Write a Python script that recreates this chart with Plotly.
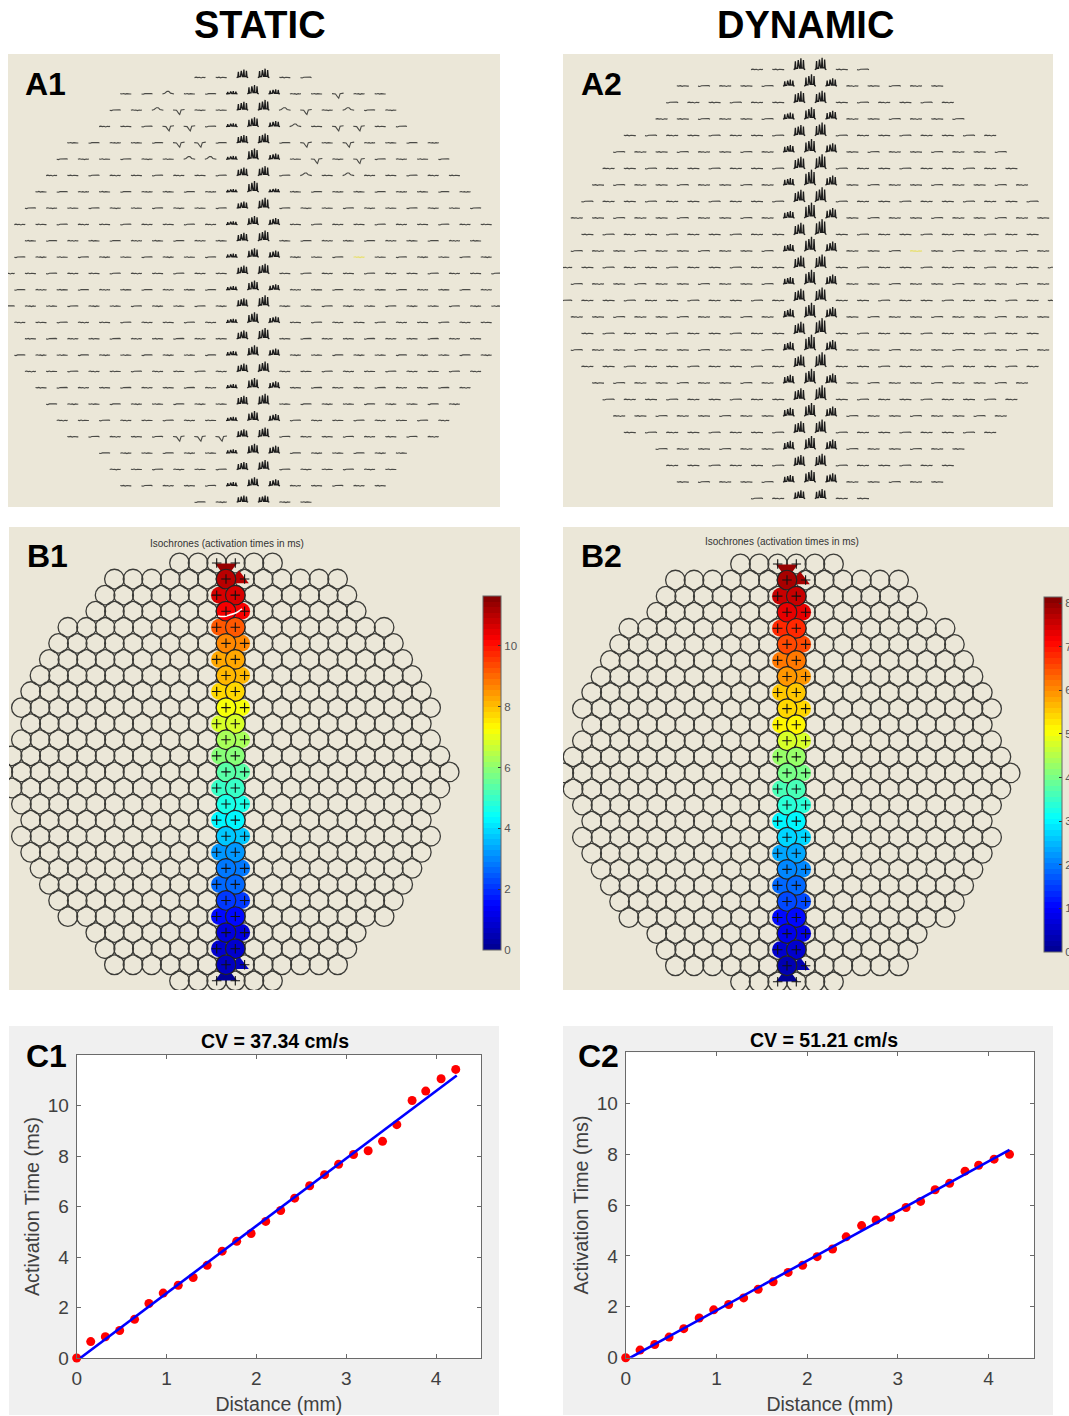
import plotly.graph_objects as go

W, H = 1069, 1416
FONT = "Liberation Sans"
BEIGE = "#EBE7D8"

# ---------- data ----------
DIST_C1 = [0, .156, .319, .478, .644, .804, .963, 1.13, 1.296, 1.452, 1.619, 1.781, 1.941, 2.104,
           2.27, 2.426, 2.593, 2.759, 2.915, 3.081, 3.244, 3.404, 3.563, 3.733, 3.885, 4.056, 4.219]
TIME_C1 = [0, .65, .84, 1.09, 1.53, 2.16, 2.57, 2.88, 3.19, 3.67, 4.23, 4.62, 4.93, 5.41,
           5.84, 6.33, 6.82, 7.26, 7.67, 8.06, 8.21, 8.58, 9.24, 10.2, 10.57, 11.06, 11.43]
DIST_C2 = [0, .158, .32, .478, .64, .81, .97, 1.135, 1.3, 1.46, 1.625, 1.79, 1.95, 2.11,
           2.28, 2.43, 2.6, 2.76, 2.92, 3.09, 3.25, 3.41, 3.57, 3.74, 3.89, 4.06, 4.23]
TIME_C2 = [0, .3, .52, .81, 1.14, 1.56, 1.88, 2.09, 2.35, 2.69, 2.98, 3.35, 3.63, 3.97, 4.27,
           4.75, 5.19, 5.41, 5.52, 5.9, 6.14, 6.6, 6.85, 7.33, 7.56, 7.8, 7.99]
FIT_X_C1 = [0.04, 4.23]
FIT_Y_C1 = [0.0, 11.19]
FIT_X_C2 = [0.05, 4.23]
FIT_Y_C2 = [0.0, 8.17]
X_TICKS = [0, 1, 2, 3, 4]
Y_TICKS = [0, 2, 4, 6, 8, 10]
CBAR1_TICKS = [0, 2, 4, 6, 8, 10]
CBAR2_TICKS = [0, 1, 2, 3, 4, 5, 6, 7, 8]

# half-width of each electrode row, in column units (top half, mirrored below)
ROW_HALF_TOP = [2.5, 6, 6.5, 7, 8.5, 9, 9.5, 10, 10.5, 11, 10.5, 11, 11.5, 12]
ROW_HALF = ROW_HALF_TOP + ROW_HALF_TOP[-2::-1]

# waveform templates
DASH_X = [0, .15, .3, .45, .6, .75, .9, 1]
DASH_Y = [[0, .03, 0, .02, -.02, .02, 0, .02], [.02, 0, .03, -.01, .02, .03, 0, 0], [0, -.02, .02, .03, 0, .01, .03, 0]]
SPIKE_X = [0, .1, .15, .19, .26, .33, .4, .44, .5, .58, .63, .67, .74, .81, .85, .9, 1]
SPIKE_Y = [0, .06, .62, .08, .1, .1, .72, .12, .12, .12, .85, .12, .1, .12, .72, .06, 0]
BUMP_X = [0, .2, .4, .55, .7, 1]
BUMP_Y = [0, .05, .16, .16, .05, 0]
VEE_X = [0, .3, .5, .58, .7, 1]
VEE_Y = [.02, 0, -.2, -.26, .02, .05]

# deflected electrodes as (row, column)
A1_BUMPS = [(1, -4), (2, -4.5), (2, 1.5), (2, 4.5), (3, 2), (5, -3), (5, -2), (6, 2.5), (6, 4.5)]
A1_VEES = [(1, 4), (2, -3.5), (2, 2.5), (3, -4), (3, -3), (3, 4), (3, 5), (4, -3.5), (4, -2.5),
           (4, 2.5), (4, 4.5), (5, 3), (5, 5), (22, -3.5), (22, -2.5), (22, -1.5)]
YELLOW_ELECTRODE = (11, 5)

# spike amplitudes for the central electrodes, one per row
CENTRE_LEFT_A1 = [.85, .3, .9, .35, .85, .35, .85, .3, .7, .35, .85, .4, .85, .4, .85, .4, .9, .45, .85, .4, .9, .4, .8, .4, .8, .4, .7]
CENTRE_MAIN_A1 = [.95, .95, 1.1, 1, 1, 1.15, 1, 1.15, 1.1, .9, 1.1, .95, 1.05, 1, 1.15, 1.1, 1.15, 1.05, 1.05, 1.05, 1.1, 1, 1, 1, 1, .9, .7]
CENTRE_RIGHT_A1 = [.55, .5, .5, .6, .5, .6, .3, .35, .3, .7, .3, .7, .3, .6, .4, .65, .4, .7, .4, .7, .4, .7, .4, .8, .3, .7, .3]
CENTRE_LEFT_A2 = [.95, .55, .95, .55, .9, .6, 1, .6, 1, .6, 1, .6, 1, .6, 1, .7, 1, .7, 1, .7, .95, .7, .95, .7, .9, .6, .7]
CENTRE_MAIN_A2 = [1, 1, 1, 1, 1.1, 1.1, 1.2, 1.3, 1.2, 1.3, 1.3, 1.2, 1.1, 1.2, 1.1, 1.2, 1.3, 1.3, 1.2, 1.2, 1.2, 1.1, 1.1, 1.1, 1, 1, .8]
CENTRE_RIGHT_A2 = [.8, .65, .8, .7, .9, .75, 1, .8, 1, .85, 1, .8, 1, .8, 1, .85, 1, .85, 1, .8, 1, .8, .9, .8, .9, .75, .6]

# white contour artefact on B1 (column, row)
ARC_COL = [-.43, -.1, .2, .55, .86]
ARC_ROW = [3.3, 3.33, 3.23, 3.1, 2.86]


# ---------- helpers ----------
def jet(t):
    stops = [(0, (0, 0, 143)), (.125, (0, 0, 255)), (.375, (0, 255, 255)), (.625, (255, 255, 0)),
             (.875, (255, 0, 0)), (1, (128, 0, 0))]
    for (a, ca), (b, cb) in zip(stops, stops[1:]):
        if t <= b:
            f = (t - a) / (b - a)
            return "rgb(%d,%d,%d)" % tuple(round(x + (y - x) * f) for x, y in zip(ca, cb))
    return "rgb(128,0,0)"


LEVELS = 64
JET64 = []
for i in range(LEVELS):
    c = jet((i + .5) / LEVELS)
    JET64 += [[i / LEVELS, c], [(i + 1) / LEVELS, c]]


def px(x):
    return x / W


def py(y):
    return 1 - y / H


def row_cols(r):
    h = ROW_HALF[r]
    return [-h + i for i in range(int(2 * h) + 1)]


fig = go.Figure()
layout_axes = {}
shapes = []
annotations = []


def add_axes(n, x0, x1, y0, y1, xr, yr, **extra):
    sfx = "" if n == 1 else str(n)
    base = dict(visible=False, fixedrange=True, showgrid=False, zeroline=False)
    base.update(extra)
    layout_axes["xaxis" + sfx] = dict(base, domain=[px(x0), px(x1)], range=xr, anchor="y" + sfx)
    layout_axes["yaxis" + sfx] = dict(base, domain=[py(y1), py(y0)], range=yr, anchor="x" + sfx)
    return "x" + sfx, "y" + sfx


def rect(x0, x1, y0, y1, fill):
    shapes.append(dict(type="rect", xref="paper", yref="paper", x0=px(x0), x1=px(x1), y0=py(y1), y1=py(y0),
                       fillcolor=fill, line_width=0, layer="below"))


def text(x, y, s, size, bold=True, color="#000"):
    annotations.append(dict(x=px(x), y=py(y), xref="paper", yref="paper", text="<b>%s</b>" % s if bold else s,
                            showarrow=False, xanchor="center", yanchor="middle",
                            font=dict(family=FONT, size=size, color=color)))


def waveform(col, row, tx, ty, amp, w, h, base=.1):
    xs = [col + (t - .5) * w for t in tx]
    ys = [row + base - v * amp * h for v in ty]
    return xs + [None], ys + [None]


def panel_a(n, box, cx, cy, dx, dy, left, main, right, bumps, vees, width, spike_h):
    x0, x1, y0, y1 = box
    xa, ya = add_axes(n, x0, x1, y0, y1, [(x0 - cx) / dx, (x1 - cx) / dx], [(y1 - cy) / dy, (y0 - cy) / dy])
    rect(x0, x1, y0, y1, BEIGE)
    lx, ly, sx, sy = [], [], [], []
    special = set(bumps) | set(vees) | {YELLOW_ELECTRODE}
    w = width / dx
    for r in range(27):
        for k, c in enumerate(row_cols(r)):
            central = (r % 2 and abs(c) <= 1) or (not r % 2 and abs(c) <= .5)
            if central:
                if r % 2:
                    amp = {-1: left[r], 0: main[r], 1: right[r]}[int(c)]
                else:
                    amp = left[r] if c < 0 else main[r]
                a, b = waveform(c, r, SPIKE_X, SPIKE_Y, amp, 11.5 / dx, spike_h)
                sx += a
                sy += b
            elif (r, c) not in special:
                a, b = waveform(c, r, DASH_X, DASH_Y[(r + k) % 3], 1, w, 1.0)
                lx += a
                ly += b
    for (r, c) in bumps:
        a, b = waveform(c, r, BUMP_X, BUMP_Y, 1, w * 1.05, 1.0)
        lx += a
        ly += b
    for (r, c) in vees:
        a, b = waveform(c, r, VEE_X, VEE_Y, 1, w * 1.05, 1.0)
        lx += a
        ly += b
    fig.add_trace(go.Scatter(x=lx, y=ly, xaxis=xa, yaxis=ya, mode="lines", showlegend=False, hoverinfo="skip",
                             line=dict(color="#4a4a46", width=1.1)))
    fig.add_trace(go.Scatter(x=sx, y=sy, xaxis=xa, yaxis=ya, mode="lines", showlegend=False, hoverinfo="skip",
                             line=dict(color="#1c1c1c", width=1.3)))
    r, c = YELLOW_ELECTRODE
    a, b = waveform(c, r, DASH_X, DASH_Y[0], 1, w, 1.0)
    fig.add_trace(go.Scatter(x=a, y=b, xaxis=xa, yaxis=ya, mode="lines", showlegend=False, hoverinfo="skip",
                             line=dict(color="#e8e070", width=1.2)))


def panel_b(n, box, cx, cy, dx, dy, times, caxis, arc=False):
    x0, x1, y0, y1 = box
    xa, ya = add_axes(n, x0, x1, y0, y1, [(x0 - cx) / dx, (x1 - cx) / dx], [(y1 - cy) / dy, (y0 - cy) / dy])
    rect(x0, x1, y0, y1, BEIGE)
    t_by_row = times[::-1]
    hx, hy = [], []
    for r in range(27):
        for c in row_cols(r):
            hx.append(c)
            hy.append(r)
    common = dict(xaxis=xa, yaxis=ya, mode="markers", showlegend=False, hoverinfo="skip")
    fig.add_trace(go.Scatter(x=hx, y=hy, marker=dict(size=19.6, color="rgba(0,0,0,0)",
                                                    line=dict(color="#3c3c38", width=1.3)), **common))
    rows = list(range(1, 26))
    main_c = [0 if r % 2 else .5 for r in rows]
    side_c = [1 if r % 2 else -.5 for r in rows]
    blob_c = [.7 if r in (1, 25) else (.84 if r % 2 else -.35) for r in rows]
    blob_sym = ["triangle-up" if r in (1, 25) else "circle" for r in rows]
    t = [t_by_row[r] for r in rows]
    # partial electrodes
    fig.add_trace(go.Scatter(x=blob_c, y=rows, marker=dict(size=17, symbol=blob_sym, color=t, coloraxis=caxis,
                                                          line_width=0), **common))
    # wedge ends of the activated strip
    fig.add_trace(go.Scatter(x=[0], y=[.32], marker=dict(size=19, symbol="triangle-down", color=[t_by_row[0]],
                                                         coloraxis=caxis, line_width=0), **common))
    fig.add_trace(go.Scatter(x=[0], y=[25.68], marker=dict(size=19, symbol="triangle-up", color=[t_by_row[26]],
                                                          coloraxis=caxis, line_width=0), **common))
    fig.add_trace(go.Scatter(x=main_c, y=rows, marker=dict(size=19.6, color=t, coloraxis=caxis,
                                                          line=dict(color="#222", width=1.2)), **common))
    if arc:
        fig.add_trace(go.Scatter(x=ARC_COL, y=ARC_ROW, xaxis=xa, yaxis=ya, mode="lines", showlegend=False,
                                 hoverinfo="skip", line=dict(color="white", width=1.6, shape="spline")))
    px_c = main_c + side_c + [-.5, .5, -.5, .5]
    px_r = rows + rows + [0, 0, 26, 26]
    fig.add_trace(go.Scatter(x=px_c, y=px_r, marker=dict(size=6.8, symbol="cross-thin",
                                                        line=dict(color="#111", width=1.1)), **common))


def panel_c(n, panel, box, dist, time, fx, fy):
    rect(*panel, "#F0F0F0")
    x0, x1, y0, y1 = box
    rect(x0, x1, y0, y1, "#FFFFFF")
    xa, ya = add_axes(n, x0, x1, y0, y1, [0, 4.5], [0, 12], visible=True, showline=True, linecolor="#6a6a6a",
                      linewidth=1, mirror="ticks", ticks="inside", ticklen=4, tickcolor="#6a6a6a", tickwidth=1,
                      ticklabelstandoff=3, tickfont=dict(family=FONT, size=19, color="#404040"))
    sfx = xa[1:]
    layout_axes["xaxis" + sfx].update(tickmode="array", tickvals=X_TICKS, ticktext=[str(v) for v in X_TICKS],
                                      title=dict(text="Distance (mm)", standoff=9,
                                                 font=dict(family=FONT, size=19.5, color="#404040")))
    layout_axes["yaxis" + sfx].update(tickmode="array", tickvals=Y_TICKS, ticktext=[str(v) for v in Y_TICKS],
                                      title=dict(text="Activation Time (ms)", standoff=2,
                                                 font=dict(family=FONT, size=19.8, color="#404040")))
    fig.add_trace(go.Scatter(x=dist, y=time, xaxis=xa, yaxis=ya, mode="markers", showlegend=False, cliponaxis=False,
                             marker=dict(size=9, color="#FF0000")))
    fig.add_trace(go.Scatter(x=fx, y=fy, xaxis=xa, yaxis=ya, mode="lines", showlegend=False, cliponaxis=False,
                             line=dict(color="#0000FF", width=2.6)))


def cbar(x0, y_top, y_bot, ticks, cmax):
    return dict(cmin=0, cmax=cmax, colorscale=JET64,
                colorbar=dict(x=px(x0), xanchor="left", xpad=0, y=py(y_bot), yanchor="bottom", ypad=0,
                              len=(y_bot - y_top) / H, lenmode="fraction", thickness=18,
                              outlinecolor="#666", outlinewidth=1, ticks="inside", ticklen=3, tickcolor="#333",
                              tickmode="array", tickvals=ticks, ticktext=[str(v) for v in ticks],
                              tickfont=dict(family=FONT, size=11.5, color="#555")))


# ---------- panels ----------
panel_a(1, (8, 500, 54, 507), 253, 76, 21.2, 16.33, CENTRE_LEFT_A1, CENTRE_MAIN_A1, CENTRE_RIGHT_A1, A1_BUMPS, A1_VEES, 11, .68)
panel_a(2, (563, 1053, 54, 507), 810, 68, 21.2, 16.5, CENTRE_LEFT_A2, CENTRE_MAIN_A2, CENTRE_RIGHT_A2, [], [], 12, .85)
panel_b(3, (9, 520, 527, 990), 226, 563, 18.6, 16.07, TIME_C1, "coloraxis", arc=True)
panel_b(4, (563, 1069, 527, 990), 787, 564, 18.6, 16.07, TIME_C2, "coloraxis2")
panel_c(5, (9, 499, 1026, 1415), (76.7, 481, 1055, 1358), DIST_C1, TIME_C1, FIT_X_C1, FIT_Y_C1)
panel_c(6, (563, 1053, 1026, 1415), (625.7, 1034, 1052.3, 1357.7), DIST_C2, TIME_C2, FIT_X_C2, FIT_Y_C2)

text(260, 25, "STATIC", 38)
text(805, 25, "DYNAMIC", 38)
text(45, 84, "A1", 32)
text(601, 84, "A2", 32)
text(47, 556, "B1", 32)
text(601, 556, "B2", 32)
text(46, 1056, "C1", 32)
text(598, 1056, "C2", 32)
text(227, 543, "Isochrones (activation times in ms)", 10, bold=False, color="#333")
text(782, 541, "Isochrones (activation times in ms)", 10, bold=False, color="#333")
text(275, 1041, "CV = 37.34 cm/s", 19.5)
text(824, 1040, "CV = 51.21 cm/s", 19.5)

fig.update_layout(width=W, height=H, margin=dict(l=0, r=0, t=0, b=0, pad=0, autoexpand=False),
                  paper_bgcolor="white", plot_bgcolor="rgba(0,0,0,0)", showlegend=False, shapes=shapes,
                  annotations=annotations, coloraxis=cbar(483, 596, 950, CBAR1_TICKS, 11.64),
                  coloraxis2=cbar(1044, 597, 952, CBAR2_TICKS, 8.14), font=dict(family=FONT), **layout_axes)

fig.write_html("out.html", config={"displayModeBar": False},
               post_script="document.body.style.margin='0';document.body.style.overflow='hidden';")
